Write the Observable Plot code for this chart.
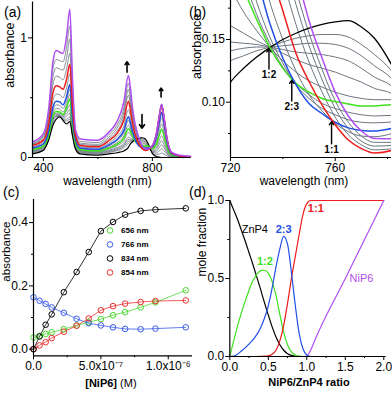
<!DOCTYPE html>
<html><head><meta charset="utf-8">
<script src="https://cdn.jsdelivr.net/npm/d3@7"></script>
<script src="https://cdn.jsdelivr.net/npm/@observablehq/plot@0.6"></script>
<style>
body{margin:0;background:#fff;}
#wrap{position:relative;width:392px;height:393px;overflow:hidden;font-family:"Liberation Sans",Arial,Helvetica,sans-serif;background:#fff;}
.panel{position:absolute;}
.plab{position:absolute;font-size:14px;color:#000;line-height:1;}
.leg{position:absolute;font-weight:bold;font-size:8px;line-height:1;color:#000;white-space:nowrap;width:60px;height:10px;}
</style></head><body><div id="wrap"></div>
<script>
// ---------- Panel (a)/(b): absorption spectra ----------
const wavelengths = [360,400,420,435,447,460,472,485,497,507,518,535,600,640,670,695,712,
  720,725,730,735,740,745,750,755,760,765,770,775,781.5,
  800,815,826,834,843,854,870,900,940];
const absBlack = [0.03,0.06,0.15,0.27,0.32,0.34,0.31,0.28,0.30,0.18,0.07,0.03,0.02,0.03,0.04,0.055,0.085,
  0.116,0.127,0.136,0.1435,0.150,0.155,0.159,0.162,0.164,0.165,0.160,0.151,0.130,
  0.035,0.008,0.003,0,0,0,0,0,0];
const absG1 = [0.04,0.067,0.16,0.30,0.34,0.345,0.315,0.305,0.32,0.18,0.075,0.04,0.03,0.042,0.057,0.08,0.12,
  0.133,0.137,0.141,0.144,0.148,0.151,0.153,0.154,0.154,0.152,0.146,0.138,0.125,
  0.04,0.025,0.03,0.037,0.028,0.014,0.004,0.002,0.001];
const absG2 = [0.045,0.073,0.165,0.31,0.345,0.35,0.32,0.32,0.34,0.19,0.08,0.045,0.035,0.048,0.065,0.092,0.135,
  0.141,0.143,0.144,0.144,0.145,0.146,0.147,0.147,0.146,0.143,0.137,0.129,0.119,
  0.045,0.038,0.058,0.072,0.054,0.026,0.007,0.003,0.002];
const absG3 = [0.05,0.078,0.17,0.315,0.35,0.355,0.33,0.345,0.37,0.205,0.087,0.05,0.04,0.054,0.073,0.103,0.15,
  0.148,0.147,0.146,0.144,0.142,0.140,0.139,0.138,0.136,0.133,0.127,0.120,0.113,
  0.05,0.053,0.086,0.107,0.08,0.038,0.01,0.004,0.002];
const absG4 = [0.055,0.084,0.175,0.325,0.36,0.36,0.34,0.365,0.40,0.22,0.095,0.055,0.045,0.06,0.083,0.115,0.17,
  0.161,0.155,0.149,0.144,0.139,0.134,0.130,0.127,0.124,0.120,0.116,0.111,0.107,
  0.055,0.068,0.113,0.142,0.106,0.051,0.013,0.005,0.003];
const absG5 = [0.06,0.09,0.18,0.335,0.37,0.37,0.35,0.39,0.44,0.24,0.105,0.06,0.05,0.07,0.098,0.14,0.21,
  0.19,0.172,0.157,0.144,0.133,0.124,0.117,0.112,0.108,0.105,0.103,0.102,0.102,
  0.065,0.085,0.146,0.182,0.137,0.065,0.017,0.006,0.003];
const absGreen = [0.065,0.095,0.19,0.35,0.385,0.38,0.36,0.415,0.49,0.27,0.115,0.065,0.055,0.079,0.11,0.16,0.24,
  0.215,0.19,0.166,0.144,0.127,0.115,0.108,0.103,0.1005,0.0985,0.097,0.097,0.098,
  0.075,0.11,0.19,0.237,0.178,0.085,0.022,0.008,0.004];
const absG6 = [0.07,0.10,0.2,0.37,0.41,0.405,0.38,0.44,0.53,0.29,0.125,0.07,0.06,0.087,0.123,0.18,0.27,
  0.235,0.20,0.17,0.147,0.128,0.115,0.106,0.099,0.095,0.092,0.09,0.089,0.0895,
  0.08,0.13,0.225,0.282,0.212,0.1,0.026,0.009,0.004];
const absG7 = [0.075,0.11,0.215,0.395,0.44,0.435,0.41,0.475,0.57,0.31,0.135,0.075,0.065,0.097,0.14,0.205,0.31,
  0.26,0.215,0.18,0.152,0.131,0.114,0.103,0.095,0.090,0.086,0.084,0.0835,0.0842,
  0.085,0.152,0.265,0.332,0.25,0.118,0.03,0.01,0.005];
const absBlue = [0.08,0.115,0.23,0.42,0.47,0.465,0.44,0.51,0.61,0.33,0.145,0.08,0.07,0.105,0.15,0.225,0.34,
  0.285,0.235,0.20,0.163,0.135,0.114,0.099,0.091,0.084,0.0795,0.0775,0.077,0.079,
  0.09,0.172,0.3,0.377,0.283,0.133,0.034,0.011,0.005];
const absG8 = [0.09,0.13,0.255,0.475,0.53,0.525,0.50,0.58,0.70,0.38,0.165,0.09,0.08,0.12,0.175,0.26,0.40,
  0.335,0.27,0.22,0.18,0.15,0.125,0.106,0.093,0.083,0.0765,0.073,0.0725,0.0749,
  0.095,0.188,0.33,0.412,0.31,0.146,0.037,0.012,0.006];
const absRed = [0.10,0.145,0.285,0.54,0.60,0.59,0.57,0.655,0.78,0.42,0.18,0.10,0.09,0.14,0.20,0.31,0.47,
  0.39,0.315,0.255,0.207,0.173,0.139,0.1165,0.0976,0.082,0.0698,0.063,0.0595,0.0615,
  0.097,0.2,0.35,0.437,0.328,0.154,0.04,0.013,0.006];
const absG9 = [0.11,0.16,0.32,0.61,0.68,0.67,0.65,0.74,0.87,0.47,0.19,0.11,0.10,0.155,0.22,0.34,0.52,
  0.43,0.35,0.285,0.235,0.198,0.162,0.132,0.108,0.088,0.074,0.066,0.062,0.0628,
  0.098,0.202,0.354,0.442,0.332,0.156,0.041,0.014,0.007];
const absG10 = [0.115,0.175,0.35,0.675,0.75,0.74,0.73,0.83,0.99,0.53,0.205,0.12,0.11,0.17,0.245,0.375,0.57,
  0.47,0.38,0.31,0.255,0.215,0.178,0.145,0.118,0.095,0.079,0.069,0.065,0.0655,
  0.099,0.203,0.357,0.444,0.334,0.157,0.042,0.015,0.008];
const absG11 = [0.12,0.185,0.38,0.74,0.82,0.81,0.80,0.92,1.10,0.59,0.215,0.135,0.125,0.19,0.27,0.41,0.62,
  0.51,0.41,0.33,0.275,0.23,0.19,0.155,0.126,0.101,0.084,0.073,0.068,0.068,
  0.1,0.204,0.358,0.445,0.335,0.157,0.043,0.016,0.009];
const absPurple = [0.13,0.20,0.42,0.80,0.895,0.88,0.87,1.01,1.24,0.65,0.23,0.155,0.145,0.21,0.30,0.46,0.686,
  0.57,0.46,0.37,0.30,0.25,0.205,0.165,0.135,0.108,0.089,0.077,0.071,0.0708,
  0.101,0.205,0.358,0.445,0.335,0.157,0.045,0.018,0.01];

// arrows in (a): wavelength and absorbance of tail / head
const arrowsA_x = [707, 762, 832];
const arrowsA_from = [0.713, 0.36, 0.505];
const arrowsA_to = [0.80, 0.245, 0.58];
// isosbestic annotations in (b)
const isoLabels = ["1:2", "2:3", "1:1"];
const isoX = [734.7, 743.4, 758.6];
const isoFrom = [0.1265, 0.101, 0.0668];
const isoTo = [0.1425, 0.1175, 0.0845];

// ---------- Panel (c): titration ----------
const concM = [0, 0.45e-7, 0.9e-7, 1.35e-7, 2.25e-7, 3.2e-7, 4.1e-7, 5.0e-7, 5.9e-7, 6.8e-7, 7.95e-7, 9.05e-7, 11.3e-7];
const abs656 = [0.037, 0.042, 0.048, 0.053, 0.063, 0.075, 0.085, 0.095, 0.107, 0.117, 0.132, 0.148, 0.186];
const abs766 = [0.164, 0.153, 0.143, 0.132, 0.115, 0.096, 0.082, 0.075, 0.069, 0.064, 0.063, 0.065, 0.069];
const abs834 = [0.0, 0.04, 0.077, 0.11, 0.18, 0.244, 0.307, 0.373, 0.402, 0.425, 0.437, 0.441, 0.445];
const abs854 = [0.0, 0.012, 0.022, 0.035, 0.055, 0.074, 0.097, 0.123, 0.136, 0.144, 0.149, 0.152, 0.154];
const cNames = ["656 nm", "766 nm", "834 nm", "854 nm"];

// ---------- Panel (d): speciation ----------
const ratio = [0,0.05,0.1,0.15,0.2,0.25,0.3,0.35,0.4,0.45,0.5,0.55,0.6,0.65,0.7,0.75,0.8,0.85,0.9,0.95,1.0,1.05,1.1,1.5,2.0];
const fracZnP4 = [1.0,0.94,0.88,0.81,0.74,0.665,0.59,0.51,0.43,0.345,0.265,0.19,0.125,0.075,0.04,0.018,0.007,0.002,0,0,0,0,0,0,0];
const frac12 = [0,0.1,0.195,0.28,0.355,0.425,0.485,0.525,0.55,0.553,0.535,0.48,0.39,0.27,0.155,0.075,0.03,0.01,0.002,0,0,0,0,0,0];
const frac23 = [0,0.003,0.015,0.035,0.055,0.08,0.107,0.14,0.185,0.245,0.325,0.44,0.575,0.69,0.77,0.72,0.54,0.33,0.15,0.05,0.01,0,0,0,0];
const frac11 = [0,0,0,0,0,0,0,0,0.001,0.002,0.005,0.015,0.04,0.1,0.2,0.34,0.5,0.64,0.78,0.91,0.98,1.0,1.0,1.0,1.0];
const fracNiP6 = [0,0,0,0,0,0,0,0,0,0,0,0,0,0,0,0,0,0,0,0,0.003,0.04,0.1,0.5,1.0];
const dLabelText = ["ZnP4", "1:2", "2:3", "1:1", "NiP6"];
const dLabelX = [0.325, 0.455, 0.70, 1.117, 1.71];
const dLabelY = [0.812, 0.607, 0.812, 0.95, 0.50];

// ---------- styling ----------
const FONT = '"Liberation Sans", Arial, Helvetica, sans-serif';
const COL = {grey:"#6b7680", black:"#000000", green:"#3fe01c", blue:"#2150e6", red:"#ee1c1c", purple:"#b04ef0"};

const spectra = [
  {key:"g1", role:"grey", abs:absG1}, {key:"g2", role:"grey", abs:absG2}, {key:"g3", role:"grey", abs:absG3},
  {key:"g4", role:"grey", abs:absG4}, {key:"g5", role:"grey", abs:absG5}, {key:"g6", role:"grey", abs:absG6},
  {key:"g7", role:"grey", abs:absG7}, {key:"g8", role:"grey", abs:absG8}, {key:"g9", role:"grey", abs:absG9},
  {key:"g10", role:"grey", abs:absG10}, {key:"g11", role:"grey", abs:absG11},
  {key:"black", role:"black", abs:absBlack}, {key:"green", role:"green", abs:absGreen},
  {key:"blue", role:"blue", abs:absBlue}, {key:"red", role:"red", abs:absRed}, {key:"purple", role:"purple", abs:absPurple}
];
const specRows = spectra.flatMap(s => s.abs.map((a, i) => ({w: wavelengths[i], a, key: s.key, role: s.role})));
const roleOrder = ["grey", "black", "green", "blue", "red", "purple"];

function specMarks(rows, widths, clip) {
  return roleOrder.map(r => Plot.line(rows.filter(d => d.role === r),
    {x: "w", y: "a", z: "key", stroke: COL[r], strokeWidth: widths[r], curve: "monotone-x", clip}));
}
const baseStyle = {fontFamily: FONT, fontSize: "12px", overflow: "visible", background: "transparent", color: "#000"};
const TP = 1.5;

function place(el, left, top) {
  const d = document.createElement("div");
  d.className = "panel"; d.style.left = left + "px"; d.style.top = top + "px";
  d.appendChild(el); document.getElementById("wrap").appendChild(d);
}
function label(txt, left, top) {
  const s = document.createElement("div"); s.className = "plab";
  s.style.left = left + "px"; s.style.top = top + "px"; s.textContent = txt;
  document.getElementById("wrap").appendChild(s);
}

// ----- (a) -----
const arrowsA = arrowsA_x.map((x, i) => ({x, y1: arrowsA_from[i], y2: arrowsA_to[i]}));
const plotA = Plot.plot({
  width: 196, height: 196, marginLeft: 32, marginRight: 6, marginTop: 1.5, marginBottom: 39,
  x: {domain: [360, 940]}, y: {domain: [0, 1.3]}, style: baseStyle,
  marks: [
    ...specMarks(specRows, {grey: 0.8, black: 1.2, green: 1.5, blue: 1.5, red: 1.5, purple: 1.5}, false),
    Plot.arrow(arrowsA, {x1: "x", x2: "x", y1: "y1", y2: "y2", headLength: 4, headAngle: 70, strokeWidth: 1.6, stroke: "#000"}),
    Plot.ruleX([360], {strokeWidth: 1.2}), Plot.ruleY([0], {strokeWidth: 1.2}),
    Plot.axisX({ticks: [400, 800], tickSize: 4, tickPadding: TP, label: null, tickFormat: d => String(d)}),
    Plot.axisX({ticks: [600], tickSize: 2, label: null, tickFormat: () => ""}),
    Plot.axisY({ticks: [0, 1], tickSize: 4, tickPadding: TP, label: null, tickFormat: d => String(d)}),
    Plot.axisY({ticks: [0.5], tickSize: 2, label: null, tickFormat: () => ""}),
    Plot.text(["absorbance"], {frameAnchor: "left", rotate: -90, dx: -23, dy: 8, fontSize: 12.5}),
    Plot.text(["wavelength (nm)"], {frameAnchor: "bottom", dx: -4, dy: 27, fontSize: 12})
  ]
});
place(plotA, 0, 0);

// ----- (b) -----
const zoomRows = specRows.filter(d => d.w >= 712 && d.w <= 800);
const isoRows = isoLabels.map((t, i) => ({t, x: isoX[i], y1: isoFrom[i], y2: isoTo[i]}));
const plotB = Plot.plot({
  width: 196, height: 196, marginLeft: 34, marginRight: 1, marginTop: 0, marginBottom: 39,
  x: {domain: [720, 781.5]}, y: {domain: [0.0559, 0.1811]}, style: baseStyle,
  marks: [
    ...specMarks(zoomRows, {grey: 1.0, black: 1.3, green: 1.5, blue: 1.5, red: 1.5, purple: 1.5}, true),
    Plot.arrow(isoRows, {x1: "x", x2: "x", y1: "y1", y2: "y2", headLength: 4, headAngle: 70, strokeWidth: 1.4, stroke: "#000"}),
    Plot.text(isoRows, {x: "x", y: "y1", text: "t", lineAnchor: "top", dy: 2, fontWeight: "bold", fontSize: 10}),
    Plot.ruleX([720], {strokeWidth: 1.2}), Plot.ruleY([0.0559], {strokeWidth: 1.2}),
    Plot.axisX({ticks: [720, 760], tickSize: 4, tickPadding: TP, label: null, tickFormat: d => String(d)}),
    Plot.axisX({ticks: [740, 780], tickSize: 2, label: null, tickFormat: () => ""}),
    Plot.axisY({ticks: [0.10, 0.15], tickSize: 4, tickPadding: TP, label: null, tickFormat: d3.format(".2f")}),
    Plot.axisY({ticks: [0.075, 0.125, 0.175], tickSize: 2, label: null, tickFormat: () => ""}),
    Plot.text(["absorbance"], {frameAnchor: "left", rotate: -90, dx: -34, dy: 0, fontSize: 12.5}),
    Plot.text(["wavelength (nm)"], {frameAnchor: "bottom", dx: -7, dy: 27, fontSize: 12})
  ]
});
place(plotB, 196, 0);

// ----- (c) -----
const cColors = ["#4cd82e", "#3a5cec", "#000000", "#ec3030"];
const cVals = [abs656, abs766, abs834, abs854];
const cRows = cNames.flatMap((n, k) => concM.map((c, i) => ({c, v: cVals[k][i], n, k})));
const drawOrder = [0, 1, 3, 2];
const supFmt = d => d === 0 ? "0.0" : (d < 0.9e-6 ? "5.0x10\u207B\u2077" : "1.0x10\u207B\u2076");
const plotC = Plot.plot({
  width: 196, height: 197, marginLeft: 33, marginRight: 4, marginTop: 3, marginBottom: 37.7,
  x: {domain: [0, 1.18e-6]}, y: {domain: [-0.021, 0.473]}, style: baseStyle,
  marks: [
    ...drawOrder.map(k => Plot.line(cRows.filter(d => d.k === k), {x: "c", y: "v", stroke: cColors[k], strokeWidth: 0.8})),
    ...drawOrder.map(k => Plot.dot(cRows.filter(d => d.k === k), {x: "c", y: "v", stroke: cColors[k], r: 2.8, strokeWidth: 1, fill: "none"})),
    Plot.ruleX([0], {strokeWidth: 1.2}), Plot.ruleY([-0.021], {strokeWidth: 1.2}),
    Plot.axisX({ticks: [0, 5e-7, 1e-6], tickSize: 4, tickPadding: TP, label: null, tickFormat: supFmt}),
    Plot.axisX({ticks: [2.5e-7, 7.5e-7], tickSize: 2, label: null, tickFormat: () => ""}),
    Plot.axisY({ticks: [0, 0.2, 0.4], tickSize: 4, tickPadding: TP, label: null, tickFormat: d3.format(".1f")}),
    Plot.axisY({ticks: [0.1, 0.3], tickSize: 2, label: null, tickFormat: () => ""}),
    Plot.text(["absorbance"], {frameAnchor: "left", rotate: -90, dx: -27, dy: 4, fontSize: 11.5}),
    Plot.text(["[NiP6]"], {frameAnchor: "bottom", dx: 4, dy: 31, textAnchor: "end", fontWeight: "bold", fontSize: 11}),
    Plot.text(["\u00a0(M)"], {frameAnchor: "bottom", dx: 4, dy: 31, textAnchor: "start", fontSize: 11})
  ]
});
place(plotC, 0, 196);
// legend for (c)
cNames.forEach((n, k) => {
  const row = document.createElement("div");
  row.className = "leg"; row.style.left = "106px"; row.style.top = (226 + k * 14) + "px";
  row.innerHTML = `<svg width="9" height="9" style="position:absolute;left:0;top:0;overflow:visible"><circle cx="4" cy="4.5" r="2.8" fill="none" stroke="${cColors[k]}" stroke-width="1"/></svg><span style="position:absolute;left:15px;top:1px">${n}</span>`;
  document.getElementById("wrap").appendChild(row);
});

// ----- (d) -----
const dSeries = [
  {vals: fracZnP4, color: COL.black}, {vals: frac12, color: COL.green}, {vals: frac11, color: COL.red},
  {vals: fracNiP6, color: COL.purple}, {vals: frac23, color: COL.blue}
];
const dLabColors = [COL.black, COL.green, COL.blue, COL.red, COL.purple];
const dLabBold = [false, true, true, true, false];
const dLabels = dLabelText.map((t, i) => ({t, x: dLabelX[i], y: dLabelY[i], c: dLabColors[i], b: dLabBold[i]}));
const plotD = Plot.plot({
  width: 196, height: 197, marginLeft: 33.3, marginRight: 6.4, marginTop: 4, marginBottom: 37,
  x: {domain: [0, 2.03]}, y: {domain: [0, 1]}, style: baseStyle,
  marks: [
    ...dSeries.map(s => Plot.line(ratio.map((r, i) => ({r, f: s.vals[i]})), {x: "r", y: "f", stroke: s.color, strokeWidth: 1.2, curve: "monotone-x"})),
    Plot.ruleX([0], {strokeWidth: 1.2}), Plot.ruleY([0], {strokeWidth: 1.2}),
    Plot.axisX({ticks: [0, 0.5, 1, 1.5, 2], tickSize: 4, tickPadding: TP, label: null, tickFormat: d3.format(".1f")}),
    Plot.axisX({ticks: [0.25, 0.75, 1.25, 1.75], tickSize: 2, label: null, tickFormat: () => ""}),
    Plot.axisY({ticks: [0, 0.5, 1], tickSize: 4, tickPadding: TP, label: null, tickFormat: d3.format(".1f")}),
    Plot.axisY({ticks: [0.25, 0.75], tickSize: 2, label: null, tickFormat: () => ""}),
    Plot.text(dLabels.filter(d => !d.b), {x: "x", y: "y", text: "t", fill: "c", fontSize: 11}),
    Plot.text(dLabels.filter(d => d.b), {x: "x", y: "y", text: "t", fill: "c", fontSize: 11, fontWeight: "bold"}),
    Plot.text(["mole fraction"], {frameAnchor: "left", rotate: -90, dx: -28, dy: -2, fontSize: 12}),
    Plot.text(["NiP6/ZnP4 ratio"], {frameAnchor: "bottom", dx: 1, dy: 29, fontWeight: "bold", fontSize: 11})
  ]
});
place(plotD, 196, 196);

label("(a)", 4, 5); label("(b)", 189, 5); label("(c)", 3, 185); label("(d)", 189, 185);
</script></body></html>
